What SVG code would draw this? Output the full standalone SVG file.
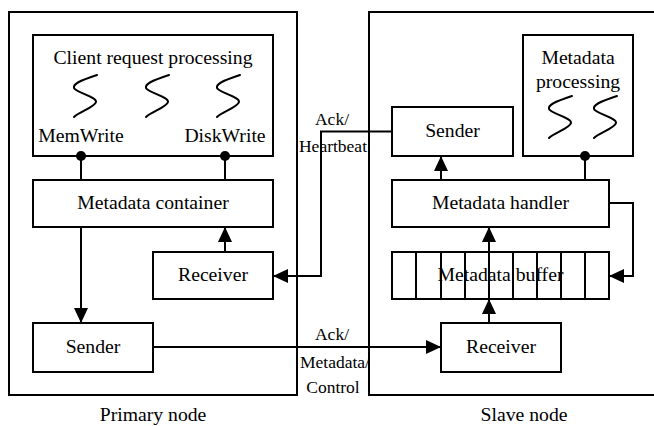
<svg xmlns="http://www.w3.org/2000/svg" width="654" height="426" viewBox="0 0 654 426">
<style>
.box{fill:#fff;stroke:#000;stroke-width:2}
.frame{fill:none;stroke:#000;stroke-width:2}
.t{font-family:'Liberation Serif','DejaVu Serif',serif;font-size:19.7px;fill:#000;text-anchor:middle}
.l{font-family:'Liberation Serif','DejaVu Serif',serif;font-size:17.5px;fill:#000;text-anchor:middle}
.c{fill:none;stroke:#000;stroke-width:2}
.sq{fill:none;stroke:#000;stroke-width:2;stroke-linecap:round}
</style>
<defs>
<marker id="ah" viewBox="0 0 15 14" refX="15" refY="7" markerWidth="15" markerHeight="14" markerUnits="userSpaceOnUse" orient="auto">
<path d="M0,0 L15,7 L0,14 z" fill="#000"/>
</marker>
<path id="squig" d="M24,0 C6,6 0,9 1,13 C2,17 24,22 23,27 C22,32 6,37 1,42"/>
</defs>
<g id="primary-node">
<rect class="frame" x="9" y="12" width="288" height="383"/>
<text class="t" x="153" y="421">Primary node</text>
</g>
<g id="slave-node">
<rect class="frame" x="369" y="12" width="320" height="383"/>
<text class="t" x="524" y="421">Slave node</text>
</g>
<g id="client-request-processing">
<rect class="box" x="33" y="35" width="240" height="121"/>
<text class="t" x="153" y="64">Client request processing</text>
<use href="#squig" class="sq" x="73" y="75"/>
<use href="#squig" class="sq" x="145" y="75"/>
<use href="#squig" class="sq" x="216" y="75"/>
<text class="t" x="81" y="142">MemWrite</text>
<text class="t" x="225" y="142">DiskWrite</text>
</g>
<g id="metadata-container">
<rect class="box" x="33" y="180" width="240" height="47"/>
<text class="t" x="153" y="209">Metadata container</text>
</g>
<g id="receiver-primary">
<rect class="box" x="153" y="252" width="120" height="47"/>
<text class="t" x="213" y="281">Receiver</text>
</g>
<g id="sender-primary">
<rect class="box" x="33" y="323" width="120" height="49"/>
<text class="t" x="93" y="353">Sender</text>
</g>
<g id="sender-slave">
<rect class="box" x="392" y="107" width="121" height="49"/>
<text class="t" x="452.5" y="137">Sender</text>
</g>
<g id="metadata-processing">
<rect class="box" x="523" y="35" width="110" height="121"/>
<text class="t" x="578" y="64">Metadata</text>
<text class="t" x="578" y="88">processing</text>
<use href="#squig" class="sq" x="548" y="96"/>
<use href="#squig" class="sq" x="593" y="96"/>
</g>
<g id="metadata-handler">
<rect class="box" x="392" y="180" width="217" height="47"/>
<text class="t" x="500.5" y="209">Metadata handler</text>
</g>
<g id="metadata-buffer">
<rect class="box" x="392" y="252" width="217" height="47"/>
<path class="c" d="M416,252V299M441,252V299M465,252V299M489,252V299M513,252V299M537,252V299M561,252V299M585,252V299"/>
<text class="t" x="500.5" y="281">Metadata buffer</text>
</g>
<g id="receiver-slave">
<rect class="box" x="441" y="323" width="120" height="49"/>
<text class="t" x="501" y="353">Receiver</text>
</g>
<g id="connectors">
<line class="c" x1="81" y1="156" x2="81" y2="180"/>
<circle cx="81" cy="156" r="5" fill="#000"/>
<line class="c" x1="225" y1="156" x2="225" y2="180"/>
<circle cx="225" cy="156" r="5" fill="#000"/>
<line class="c" x1="585" y1="156" x2="585" y2="180"/>
<circle cx="585" cy="156" r="5" fill="#000"/>
<path class="c" d="M225,252V227" marker-end="url(#ah)"/>
<path class="c" d="M81,227V323" marker-end="url(#ah)"/>
<path class="c" d="M153,347H441" marker-end="url(#ah)"/>
<path class="c" d="M392,131.5H321V276H273" marker-end="url(#ah)"/>
<path class="c" d="M441,180V156" marker-end="url(#ah)"/>
<path class="c" d="M609,203H633V276H609" marker-end="url(#ah)"/>
<path class="c" d="M489,323V299" marker-end="url(#ah)"/>
<path class="c" d="M489,299V227" marker-end="url(#ah)"/>
<text class="l" x="332" y="125">Ack/</text>
<text class="l" x="333" y="152">Heartbeat</text>
<text class="l" x="332" y="340">Ack/</text>
<text class="l" x="335" y="368">Metadata/</text>
<text class="l" x="333" y="393">Control</text>
</g>
</svg>
